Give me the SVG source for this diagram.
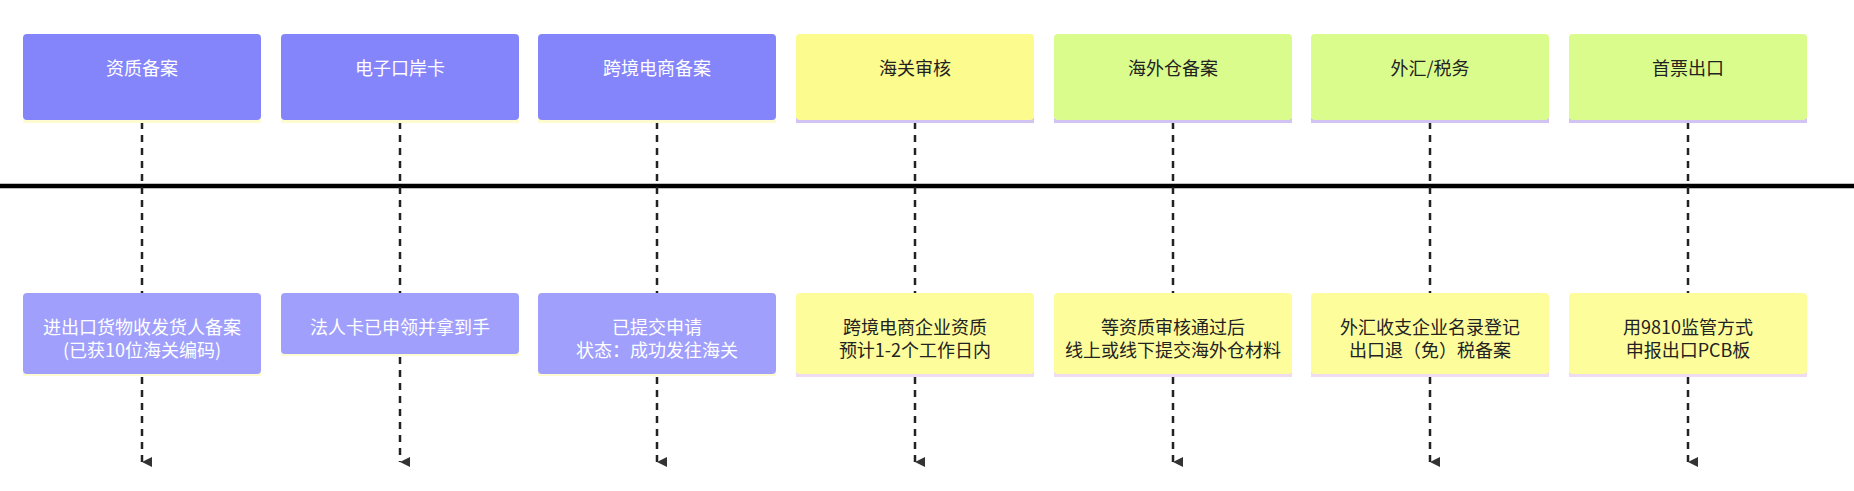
<svg xmlns="http://www.w3.org/2000/svg" width="1854" height="491" viewBox="0 0 1854 491">
<defs>
<marker id="ah" viewBox="0 0 10 10" refX="5" refY="10" markerWidth="10" markerHeight="10" markerUnits="userSpaceOnUse" orient="auto-start-reverse"><path d="M0,0 L10,0 L5,10 Z" fill="#333"/></marker>
<style>
text{font-family:"Noto Sans CJK SC","Noto Sans",sans-serif;font-size:18px;text-anchor:middle;dominant-baseline:central}
.w{fill:#fff}.d{fill:#222}
.pt{fill:#8585fb}.pl{fill:#a0a0fc}.yt{fill:#fbfb8e}.gt{fill:#dafc8c}.yl{fill:#fdfd9c}
.sy{fill:#fdfbcf}.sp{fill:#d2c4f2}.spk{fill:#f0dcf0}
.c{stroke:#222;stroke-width:2.5;stroke-dasharray:7,6;fill:none}
</style>
</defs>
<rect width="1854" height="491" fill="#fff"/>
<line x1="0" y1="186" x2="1854" y2="186" stroke="#000" stroke-width="4.5"/>
<g id="connectors">
<path class="c" d="M142,122 V293 M142,377 V462" marker-end="url(#ah)"/>
<path class="c" d="M400,122 V293 M400,357 V462" marker-end="url(#ah)"/>
<path class="c" d="M657,122 V293 M657,377 V462" marker-end="url(#ah)"/>
<path class="c" d="M915,122 V293 M915,377 V462" marker-end="url(#ah)"/>
<path class="c" d="M1173,122 V293 M1173,377 V462" marker-end="url(#ah)"/>
<path class="c" d="M1430,122 V293 M1430,377 V462" marker-end="url(#ah)"/>
<path class="c" d="M1688,122 V293 M1688,377 V462" marker-end="url(#ah)"/>
</g>
<g id="n1"><rect class="sy" x="23" y="118" width="238" height="5"/><rect class="pt" x="23" y="34" width="238" height="86" rx="4"/><text class="w" x="142" y="67">资质备案</text></g>
<g id="n2"><rect class="sy" x="281" y="118" width="238" height="5"/><rect class="pt" x="281" y="34" width="238" height="86" rx="4"/><text class="w" x="400" y="67">电子口岸卡</text></g>
<g id="n3"><rect class="sy" x="538" y="118" width="238" height="5"/><rect class="pt" x="538" y="34" width="238" height="86" rx="4"/><text class="w" x="657" y="67">跨境电商备案</text></g>
<g id="n4"><rect class="sp" x="796" y="118" width="238" height="5"/><rect class="yt" x="796" y="34" width="238" height="86" rx="4"/><text class="d" x="915" y="67">海关审核</text></g>
<g id="n5"><rect class="sp" x="1054" y="118" width="238" height="5"/><rect class="gt" x="1054" y="34" width="238" height="86" rx="4"/><text class="d" x="1173" y="67">海外仓备案</text></g>
<g id="n6"><rect class="sp" x="1311" y="118" width="238" height="5"/><rect class="gt" x="1311" y="34" width="238" height="86" rx="4"/><text class="d" x="1430" y="67">外汇/税务</text></g>
<g id="n7"><rect class="sp" x="1569" y="118" width="238" height="5"/><rect class="gt" x="1569" y="34" width="238" height="86" rx="4"/><text class="d" x="1688" y="67">首票出口</text></g>
<g id="m1"><rect class="sy" x="23" y="372" width="238" height="4"/><rect class="pl" x="23" y="293" width="238" height="81" rx="4"/><text class="w" x="142" y="326">进出口货物收发货人备案</text><text class="w" x="142" y="349">(已获10位海关编码)</text></g>
<g id="m2"><rect class="sy" x="281" y="352" width="238" height="4"/><rect class="pl" x="281" y="293" width="238" height="61" rx="4"/><text class="w" x="400" y="326">法人卡已申领并拿到手</text></g>
<g id="m3"><rect class="sy" x="538" y="372" width="238" height="4"/><rect class="pl" x="538" y="293" width="238" height="81" rx="4"/><text class="w" x="657" y="326">已提交申请</text><text class="w" x="657" y="349">状态：成功发往海关</text></g>
<g id="m4"><rect class="spk" x="796" y="372" width="238" height="5"/><rect class="yl" x="796" y="293" width="238" height="81" rx="4"/><text class="d" x="915" y="326">跨境电商企业资质</text><text class="d" x="915" y="349">预计1-2个工作日内</text></g>
<g id="m5"><rect class="spk" x="1054" y="372" width="238" height="5"/><rect class="yl" x="1054" y="293" width="238" height="81" rx="4"/><text class="d" x="1173" y="326">等资质审核通过后</text><text class="d" x="1173" y="349">线上或线下提交海外仓材料</text></g>
<g id="m6"><rect class="spk" x="1311" y="372" width="238" height="5"/><rect class="yl" x="1311" y="293" width="238" height="81" rx="4"/><text class="d" x="1430" y="326">外汇收支企业名录登记</text><text class="d" x="1430" y="349">出口退（免）税备案</text></g>
<g id="m7"><rect class="spk" x="1569" y="372" width="238" height="5"/><rect class="yl" x="1569" y="293" width="238" height="81" rx="4"/><text class="d" x="1688" y="326">用9810监管方式</text><text class="d" x="1688" y="349">申报出口PCB板</text></g>
</svg>
